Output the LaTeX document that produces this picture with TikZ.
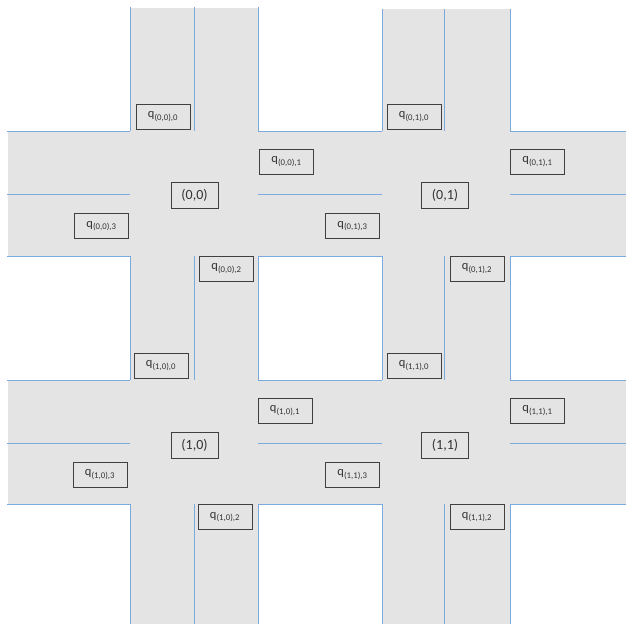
\documentclass[tikz,border=0pt]{standalone}
\usepackage{fontspec}
\setmainfont{Carlito}
\definecolor{road}{RGB}{228,228,228}
\definecolor{lane}{RGB}{125,170,222}
\definecolor{boxline}{RGB}{64,64,64}
\begin{document}
\begin{tikzpicture}[x=1pt,y=-1pt,
  qbox/.style={draw=boxline,line width=0.9pt,fill=road,minimum width=54pt,minimum height=25pt,inner sep=0pt,font=\fontsize{12.5}{13}\selectfont,text=black!80},
  cbox/.style={draw=boxline,line width=0.9pt,fill=road,minimum width=47pt,minimum height=26pt,inner sep=0pt,font=\fontsize{14}{15}\selectfont,text=black!80},
  laneline/.style={draw=lane,line width=1pt}]
\useasboundingbox (0,0) rectangle (626,624);
% road surface
\fill[road] (8,131) rectangle (626,256);
\fill[road] (8,380) rectangle (626,504);
\fill[road] (130,8) rectangle (258,624);
\fill[road] (382,9) rectangle (510,624);
% vertical edges and centre lines
\foreach \x/\t in {130/7,194/7,258/7,382/9,444/9,510/9}{
  \draw[laneline] (\x,\t) -- (\x,131);
  \draw[laneline] (\x,256) -- (\x,380);
  \draw[laneline] (\x,504) -- (\x,624);
}
% horizontal edges and centre lines
\foreach \y in {131,194,256,380,443,504}{
  \draw[laneline] (7,\y) -- (130,\y);
  \draw[laneline] (258,\y) -- (382,\y);
  \draw[laneline] (510,\y) -- (626,\y);
}
% intersection (0,0)
\node[cbox] (c00) at (194.5,195) {(0,0)};
\node[qbox] (q000) at (163,116.5) {q\textsubscript{(0,0),0}};
\node[qbox] (q001) at (286.5,161.5) {q\textsubscript{(0,0),1}};
\node[qbox] (q003) at (101.5,226) {q\textsubscript{(0,0),3}};
\node[qbox] (q002) at (226.5,268.5) {q\textsubscript{(0,0),2}};
% intersection (0,1)
\node[cbox] (c01) at (445,195) {(0,1)};
\node[qbox] (q010) at (414,116.5) {q\textsubscript{(0,1),0}};
\node[qbox] (q011) at (537.5,161.5) {q\textsubscript{(0,1),1}};
\node[qbox] (q013) at (352.5,226) {q\textsubscript{(0,1),3}};
\node[qbox] (q012) at (477,268.5) {q\textsubscript{(0,1),2}};
% intersection (1,0)
\node[cbox] (c10) at (194.5,445.5) {(1,0)};
\node[qbox] (q100) at (161,365.5) {q\textsubscript{(1,0),0}};
\node[qbox] (q101) at (285,410.5) {q\textsubscript{(1,0),1}};
\node[qbox] (q103) at (100,474.5) {q\textsubscript{(1,0),3}};
\node[qbox] (q102) at (225,517) {q\textsubscript{(1,0),2}};
% intersection (1,1)
\node[cbox] (c11) at (445,445.5) {(1,1)};
\node[qbox] (q110) at (414,365.5) {q\textsubscript{(1,1),0}};
\node[qbox] (q111) at (537.5,410.5) {q\textsubscript{(1,1),1}};
\node[qbox] (q113) at (352.5,474.5) {q\textsubscript{(1,1),3}};
\node[qbox] (q112) at (477,517) {q\textsubscript{(1,1),2}};
\end{tikzpicture}
\end{document}
